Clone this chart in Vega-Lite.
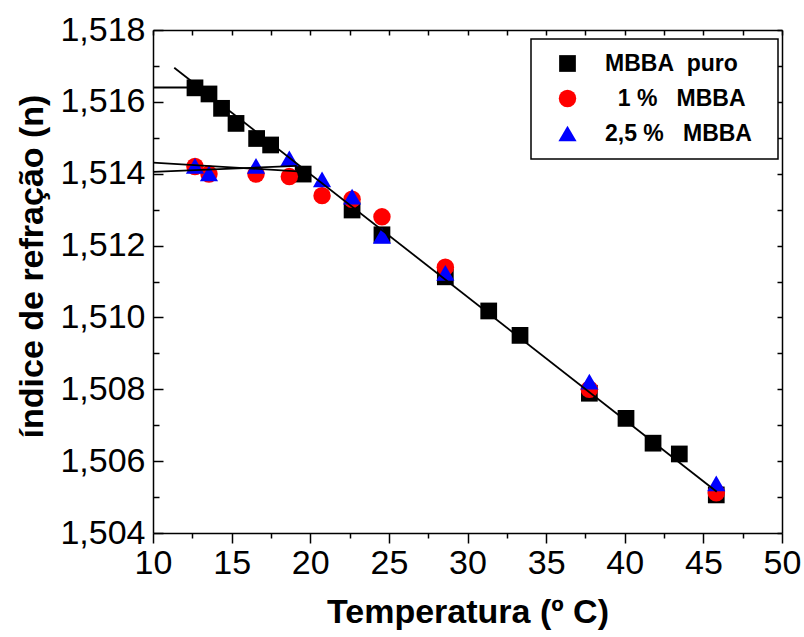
{
  "$schema": "https://vega.github.io/schema/vega-lite/v6.json",
  "width": 629,
  "height": 503,
  "autosize": {"type": "none"},
  "padding": {"left": 153, "top": 30, "right": 22, "bottom": 104},
  "background": "white",
  "config": {
    "view": {"stroke": null},
    "font": "Liberation Sans",
    "axis": {
      "grid": false,
      "domainColor": "black",
      "domainWidth": 1.5,
      "tickColor": "black",
      "tickWidth": 1.5,
      "labelColor": "black",
      "labelFont": "Liberation Sans",
      "labelFontSize": 34,
      "titleFont": "Liberation Sans",
      "titleFontSize": 34,
      "titleFontWeight": "bold",
      "titleColor": "black",
      "labelFlush": false,
      "labelOverlap": false
    },
    "legend": {"strokeWidth": 1.5}
  },
  "datasets": {
    "pts": [
      {"serie": "MBBA puro", "T": 12.67, "n": 1.51639},
      {"serie": "MBBA puro", "T": 13.56, "n": 1.51622},
      {"serie": "MBBA puro", "T": 14.36, "n": 1.51582},
      {"serie": "MBBA puro", "T": 15.28, "n": 1.5154},
      {"serie": "MBBA puro", "T": 16.59, "n": 1.51498},
      {"serie": "MBBA puro", "T": 17.48, "n": 1.5148},
      {"serie": "MBBA puro", "T": 19.55, "n": 1.51399},
      {"serie": "MBBA puro", "T": 22.66, "n": 1.51299},
      {"serie": "MBBA puro", "T": 24.56, "n": 1.5123},
      {"serie": "MBBA puro", "T": 28.59, "n": 1.51113},
      {"serie": "MBBA puro", "T": 31.35, "n": 1.51018},
      {"serie": "MBBA puro", "T": 33.34, "n": 1.5095},
      {"serie": "MBBA puro", "T": 37.75, "n": 1.50789},
      {"serie": "MBBA puro", "T": 40.08, "n": 1.50719},
      {"serie": "MBBA puro", "T": 41.8, "n": 1.5065},
      {"serie": "MBBA puro", "T": 43.47, "n": 1.5062},
      {"serie": "MBBA puro", "T": 45.82, "n": 1.50506},
      {"serie": "1 % MBBA", "T": 12.67, "n": 1.5142},
      {"serie": "1 % MBBA", "T": 13.56, "n": 1.51399},
      {"serie": "1 % MBBA", "T": 16.55, "n": 1.51399},
      {"serie": "1 % MBBA", "T": 18.67, "n": 1.51392},
      {"serie": "1 % MBBA", "T": 20.75, "n": 1.51339},
      {"serie": "1 % MBBA", "T": 22.66, "n": 1.51329},
      {"serie": "1 % MBBA", "T": 24.56, "n": 1.5128},
      {"serie": "1 % MBBA", "T": 28.59, "n": 1.5114},
      {"serie": "1 % MBBA", "T": 37.75, "n": 1.508},
      {"serie": "1 % MBBA", "T": 45.82, "n": 1.50512},
      {"serie": "2,5 % MBBA", "T": 12.67, "n": 1.51422},
      {"serie": "2,5 % MBBA", "T": 13.56, "n": 1.51401},
      {"serie": "2,5 % MBBA", "T": 16.55, "n": 1.51422},
      {"serie": "2,5 % MBBA", "T": 18.67, "n": 1.51443},
      {"serie": "2,5 % MBBA", "T": 20.75, "n": 1.51384},
      {"serie": "2,5 % MBBA", "T": 22.66, "n": 1.51336},
      {"serie": "2,5 % MBBA", "T": 24.56, "n": 1.51227},
      {"serie": "2,5 % MBBA", "T": 28.59, "n": 1.51124},
      {"serie": "2,5 % MBBA", "T": 37.75, "n": 1.50821},
      {"serie": "2,5 % MBBA", "T": 45.82, "n": 1.50538}
    ],
    "lines": [
      {"seg": "h", "T": 10, "n": 1.5164},
      {"seg": "h", "T": 12.67, "n": 1.5164},
      {"seg": "main", "T": 11.35, "n": 1.51695},
      {"seg": "main", "T": 45.85, "n": 1.50515},
      {"seg": "a", "T": 10, "n": 1.51431},
      {"seg": "a", "T": 19.46, "n": 1.51406},
      {"seg": "b", "T": 10, "n": 1.51405},
      {"seg": "b", "T": 19.14, "n": 1.51422}
    ]
  },
  "layer": [
    {
      "data": {"name": "pts"},
      "mark": {"type": "point", "filled": true, "opacity": 1, "strokeWidth": 0},
      "encoding": {
        "x": {
          "field": "T", "type": "quantitative",
          "scale": {"domain": [10, 50], "nice": false, "zero": false},
          "axis": {
            "orient": "bottom",
            "title": "Temperatura (º C)",
            "values": [10, 12.5, 15, 17.5, 20, 22.5, 25, 27.5, 30, 32.5, 35, 37.5, 40, 42.5, 45, 47.5, 50],
            "labelExpr": "datum.value % 5 === 0 ? format(datum.value, 'd') : ''",
            "tickSize": {"condition": {"test": "datum.value % 5 === 0", "value": 10}, "value": 5},
            "labelPadding": 3,
            "titlePadding": 15
          }
        },
        "y": {
          "field": "n", "type": "quantitative",
          "scale": {"domain": [1.504, 1.518], "nice": false, "zero": false},
          "axis": {
            "orient": "left",
            "title": "índice de refração (n)",
            "values": [1.504, 1.505, 1.506, 1.507, 1.508, 1.509, 1.51, 1.511, 1.512, 1.513, 1.514, 1.515, 1.516, 1.517, 1.518],
            "labelExpr": "round(datum.value * 1000) % 2 === 0 ? replace(format(datum.value, '.3f'), '.', ',') : ''",
            "tickSize": {"condition": {"test": "round(datum.value * 1000) % 2 === 0", "value": -10}, "value": -6},
            "labelPadding": 18,
            "titlePadding": 10,
            "titleY": 236
          }
        },
        "shape": {
          "field": "serie", "type": "nominal",
          "scale": {"domain": ["MBBA puro", "1 % MBBA", "2,5 % MBBA"], "range": ["square", "circle", "triangle-up"]},
          "legend": {
            "title": null, "orient": "none", "legendX": 378, "legendY": 9,
            "strokeColor": "black", "fillColor": "white", "padding": 13,
            "labelFont": "Liberation Sans", "labelFontSize": 23, "labelFontWeight": "bold", "labelColor": "black",
            "labelOffset": 26, "rowPadding": 11, "symbolOffset": 12, "symbolStrokeWidth": 0,
            "labelExpr": "datum.label === 'MBBA puro' ? 'MBBA\u00a0\u00a0puro' : datum.label === '1 % MBBA' ? '\u200b\u00a0\u00a01 %\u00a0\u00a0\u00a0MBBA' : '2,5 %\u00a0\u00a0\u00a0MBBA\u00a0\u00a0\u200b'"
          }
        },
        "color": {
          "field": "serie", "type": "nominal",
          "scale": {"domain": ["MBBA puro", "1 % MBBA", "2,5 % MBBA"], "range": ["#000000", "#ff0000", "#0000ff"]},
          "legend": {
            "title": null, "orient": "none", "legendX": 378, "legendY": 9,
            "strokeColor": "black", "fillColor": "white", "padding": 13,
            "labelFont": "Liberation Sans", "labelFontSize": 23, "labelFontWeight": "bold", "labelColor": "black",
            "labelOffset": 26, "rowPadding": 11, "symbolOffset": 12, "symbolStrokeWidth": 0,
            "labelExpr": "datum.label === 'MBBA puro' ? 'MBBA\u00a0\u00a0puro' : datum.label === '1 % MBBA' ? '\u200b\u00a0\u00a01 %\u00a0\u00a0\u00a0MBBA' : '2,5 %\u00a0\u00a0\u00a0MBBA\u00a0\u00a0\u200b'"
          }
        },
        "size": {
          "field": "serie", "type": "nominal",
          "scale": {"domain": ["MBBA puro", "1 % MBBA", "2,5 % MBBA"], "range": [280, 330, 400]},
          "legend": {
            "title": null, "orient": "none", "legendX": 378, "legendY": 9,
            "strokeColor": "black", "fillColor": "white", "padding": 13,
            "labelFont": "Liberation Sans", "labelFontSize": 23, "labelFontWeight": "bold", "labelColor": "black",
            "labelOffset": 26, "rowPadding": 11, "symbolOffset": 12, "symbolStrokeWidth": 0,
            "labelExpr": "datum.label === 'MBBA puro' ? 'MBBA\u00a0\u00a0puro' : datum.label === '1 % MBBA' ? '\u200b\u00a0\u00a01 %\u00a0\u00a0\u00a0MBBA' : '2,5 %\u00a0\u00a0\u00a0MBBA\u00a0\u00a0\u200b'"
          }
        }
      }
    },
    {
      "data": {"name": "lines"},
      "mark": {"type": "line", "color": "black", "strokeWidth": 1.8},
      "encoding": {
        "x": {
          "field": "T", "type": "quantitative",
          "axis": {
            "orient": "top", "title": null, "labels": false,
            "values": [10, 12.5, 15, 17.5, 20, 22.5, 25, 27.5, 30, 32.5, 35, 37.5, 40, 42.5, 45, 47.5, 50],
            "tickSize": -5
          }
        },
        "y": {
          "field": "n", "type": "quantitative",
          "axis": {
            "orient": "right", "title": null, "labels": false,
            "values": [1.504, 1.505, 1.506, 1.507, 1.508, 1.509, 1.51, 1.511, 1.512, 1.513, 1.514, 1.515, 1.516, 1.517, 1.518],
            "tickSize": -5
          }
        },
        "detail": {"field": "seg", "type": "nominal"}
      }
    }
  ],
  "resolve": {"axis": {"x": "independent", "y": "independent"}}
}
